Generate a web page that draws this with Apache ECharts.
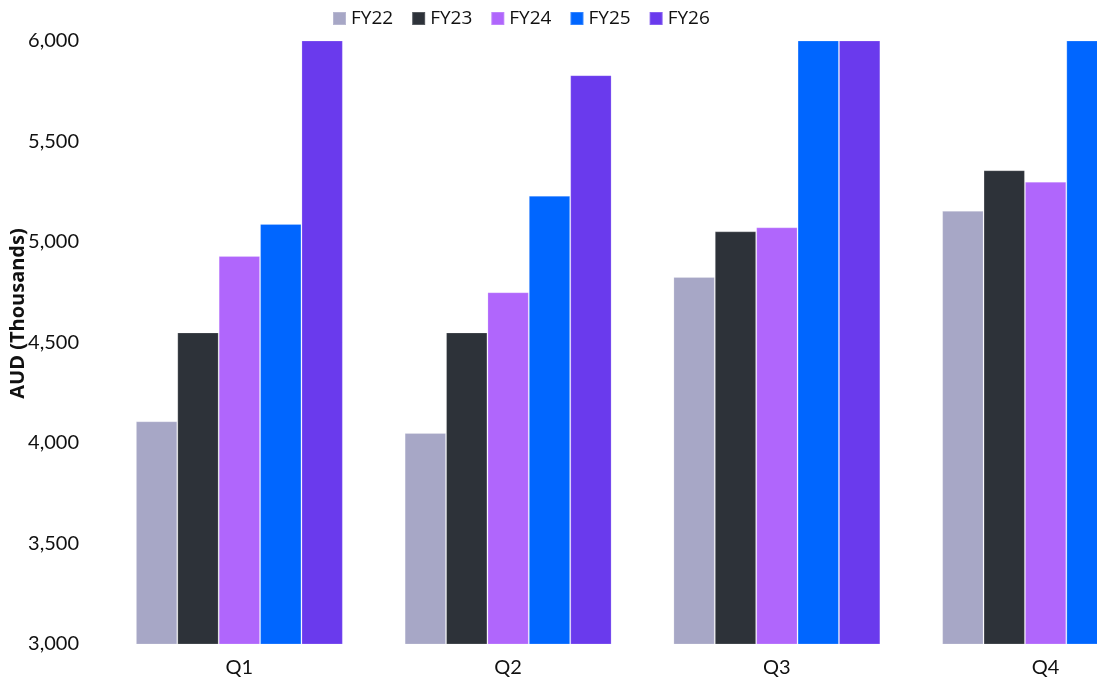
<!DOCTYPE html>
<html>
<head>
<meta charset="utf-8">
<script src="https://cdn.jsdelivr.net/npm/echarts@6/dist/echarts.min.js"></script>
<style>
  html, body { margin: 0; padding: 0; background: #fff; overflow: hidden; }
  #chart { width: 1180px; height: 685px; }
</style>
</head>
<body>
<div id="chart"></div>
<script>
// Quarterly revenue by financial year, AUD thousands
const quarters = ['Q1', 'Q2', 'Q3', 'Q4'];
const fy22 = [4108, 4050, 4826, 5155];
const fy23 = [4550, 4550, 5053, 5357];
const fy24 = [4930, 4750, 5073, 5300];
const fy25 = [5090, 5230, 6150, 6250];
const fy26 = [6100, 5830, 6300, 6400];

const yMin = 3000;
const yMax = 6000;
const yStep = 500;

const seriesDefs = [
  { name: 'FY22', data: fy22, color: '#a7a7c6' },
  { name: 'FY23', data: fy23, color: '#2d3239' },
  { name: 'FY24', data: fy24, color: '#b066fc' },
  { name: 'FY25', data: fy25, color: '#0066ff' },
  { name: 'FY26', data: fy26, color: '#6a3aed' }
];

const font = 'Lato, "Open Sans", sans-serif';
const chart = echarts.init(document.getElementById('chart'), null, { renderer: 'canvas' });

chart.setOption({
  animation: false,
  backgroundColor: '#ffffff',
  textStyle: { fontFamily: font },
  legend: {
    top: 9,
    left: 332,
    padding: 0,
    itemWidth: 13,
    itemHeight: 13,
    itemGap: 18,
    icon: 'rect',
    textStyle: { fontSize: 19, color: '#111', fontFamily: '"Open Sans", sans-serif' },
    data: seriesDefs.map(s => s.name)
  },
  grid: {
    left: 105,
    top: 41,
    right: 0,
    height: 603,
    containLabel: false,
    outerBoundsMode: 'none'
  },
  xAxis: {
    type: 'category',
    data: quarters,
    axisLine: { show: false },
    axisTick: { show: false },
    axisLabel: { fontSize: 20, color: '#111', margin: 14 }
  },
  yAxis: {
    type: 'value',
    min: yMin,
    max: yMax,
    interval: yStep,
    name: 'AUD (Thousands)',
    nameLocation: 'middle',
    nameGap: 77,
    nameMoveOverlap: false,
    nameTextStyle: {
      fontSize: 20,
      fontWeight: 700,
      color: '#111',
      fontFamily: '"Open Sans", sans-serif',
      padding: [0, 0, 0, 58]
    },
    splitLine: { show: false },
    axisLine: { show: false },
    axisTick: { show: false },
    axisLabel: {
      fontSize: 20,
      color: '#111',
      margin: 26,
      formatter: v => v.toLocaleString('en-US')
    }
  },
  series: seriesDefs.map(s => ({
    name: s.name,
    type: 'bar',
    data: s.data,
    clip: true,
    barGap: '0%',
    barCategoryGap: '23%',
    itemStyle: {
      color: s.color,
      borderColor: 'rgba(255,255,255,0.2)',
      borderWidth: 1
    }
  }))
});
</script>
</body>
</html>
